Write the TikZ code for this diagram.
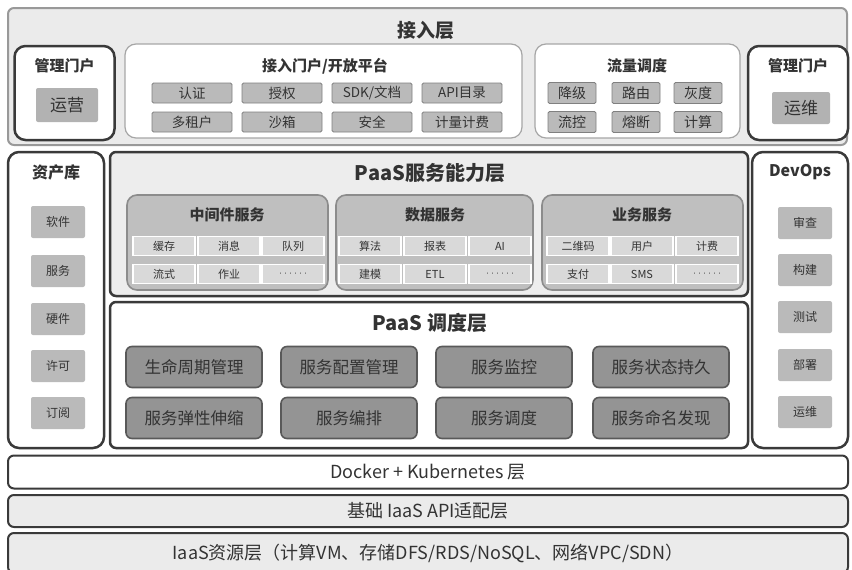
\documentclass[tikz,border=0pt]{standalone}
\usepackage{fontspec}
\setmainfont{Noto Sans CJK SC}
\definecolor{txt}{HTML}{333333}
\definecolor{line}{HTML}{3A3A3A}
\tikzset{
  every node/.style={inner sep=0pt, text=txt},
  layerbox/.style={draw=line, line width=2pt, rounded corners=6pt},
  thickbox/.style={draw=line, line width=2.5pt, rounded corners=11pt, fill=white},
  thinbox/.style={draw=black!35, line width=1.2pt, rounded corners=11pt, fill=white},
  itembox/.style={fill=black!27, draw=black!50, line width=0.9pt, rounded corners=1.5pt, font=\fontsize{13.5}{14}\selectfont},
  sidebox/.style={fill=black!27, rounded corners=2pt, minimum width=54pt, minimum height=32pt, font=\fontsize{12}{13}\selectfont},
  groupbox/.style={fill=black!25, draw=black!45, line width=1.6pt, rounded corners=10pt},
  svcitem/.style={fill=black!15, draw=white, line width=1.5pt, minimum height=19pt, font=\fontsize{11}{12}\selectfont},
  schedbox/.style={fill=black!42, draw=black!65, line width=1.6pt, rounded corners=6pt, minimum width=136pt, minimum height=41pt, font=\fontsize{16.5}{17}\selectfont},
  ttl/.style={font=\bfseries\fontsize{#1}{#1}\selectfont},
}
\begin{document}
\begin{tikzpicture}[x=1pt,y=-1pt]
\useasboundingbox (0,0) rectangle (852,570);
% ===== top access layer
\node[draw=black!40, line width=2pt, rounded corners=6pt, fill=black!8, minimum width=839pt, minimum height=137pt] (access) at (427.5,76.5) {};
\node[ttl=19] (accesst) at (426,30) {接入层};
% left admin portal
\node[thickbox, minimum width=100pt, minimum height=94pt] (admL) at (64.5,93) {};
\node[ttl=15] (admLt) at (64.5,66) {管理门户};
\node[fill=black!30, rounded corners=2pt, minimum width=62pt, minimum height=34pt, font=\fontsize{17}{18}\selectfont] (yunying) at (67,105) {运营};
% open platform
\node[thinbox, minimum width=397pt, minimum height=94pt] (open) at (323.5,91) {};
\node[ttl=15] (opent) at (325,66) {接入门户/开放平台};
\foreach \n/\t/\x/\y in {a1/认证/192/93, a2/授权/282/93, a3/{SDK/文档}/372/93, a4/API目录/462/93,
                        b1/多租户/192/122, b2/沙箱/282/122, b3/安全/372/122, b4/计量计费/462/122}
  \node[itembox, minimum width=80pt, minimum height=20pt] (\n) at (\x,\y) {\t};
% traffic scheduling
\node[thinbox, minimum width=205pt, minimum height=94pt] (flow) at (637.5,91) {};
\node[ttl=15] (flowt) at (637,66) {流量调度};
\foreach \n/\t/\x/\y in {c1/降级/572/93, c2/路由/636/93, c3/灰度/698/93,
                        d1/流控/572/122, d2/熔断/636/122, d3/计算/698/122}
  \node[itembox, minimum width=48pt, minimum height=21pt, font=\fontsize{14}{15}\selectfont] (\n) at (\x,\y) {\t};
% right admin portal
\node[thickbox, minimum width=100pt, minimum height=94pt] (admR) at (798,93) {};
\node[ttl=15] (admRt) at (798,66) {管理门户};
\node[fill=black!30, rounded corners=2pt, minimum width=58pt, minimum height=32pt, font=\fontsize{17}{18}\selectfont] (yunwei) at (801,108) {运维};
% ===== asset library
\node[thickbox, minimum width=96pt, minimum height=296pt] (asset) at (56,300) {};
\node[ttl=16] (assett) at (56,172) {资产库};
\foreach \n/\t/\y in {s1/软件/222, s2/服务/271, s3/硬件/319, s4/许可/366, s5/订阅/413}
  \node[sidebox] (\n) at (58,\y) {\t};
% ===== DevOps
\node[thickbox, minimum width=96pt, minimum height=296pt] (devops) at (800,300) {};
\node[ttl=16] (devopst) at (800,172) {DevOps};
\foreach \n/\t/\y in {v1/审查/223, v2/构建/270, v3/测试/317, v4/部署/365, v5/运维/412}
  \node[sidebox] (\n) at (805,\y) {\t};
% ===== PaaS service capability layer
\node[layerbox, line width=2.5pt, rounded corners=6pt, fill=black!7, minimum width=638pt, minimum height=144pt] (svc) at (429,224) {};
\node[ttl=20] (svct) at (430,173) {PaaS服务能力层};
\node[groupbox, minimum width=201pt, minimum height=95pt] (mid) at (227.5,242.5) {};
\node[ttl=15] (midt) at (227,215) {中间件服务};
\node[groupbox, minimum width=197pt, minimum height=95pt] (data) at (434.5,242.5) {};
\node[ttl=15] (datat) at (435,215) {数据服务};
\node[groupbox, minimum width=201pt, minimum height=95pt] (biz) at (642.5,242.5) {};
\node[ttl=15] (bizt) at (642,215) {业务服务};
\foreach \n/\t/\x/\y in {m1/缓存/164/246, m2/消息/229/246, m3/队列/293/246,
                        m4/流式/164/274, m5/作业/229/274, m6/{\tiny ······}/293/274,
                        e1/算法/370/246, e2/报表/435/246, e3/AI/500/246,
                        e4/建模/370/274, e5/ETL/435/274, e6/{\tiny ······}/500/274,
                        f1/二维码/578/246, f2/用户/642/246, f3/计费/707/246,
                        f4/支付/578/274, f5/SMS/642/274, f6/{\tiny ······}/707/274}
  \node[svcitem, minimum width=62pt] (\n) at (\x,\y) {\t};
% ===== PaaS scheduling layer
\node[layerbox, line width=2.5pt, rounded corners=6pt, fill=white, minimum width=638pt, minimum height=146pt] (sched) at (429,375) {};
\node[ttl=20] (schedt) at (430,323) {PaaS 调度层};
\foreach \n/\t/\x/\y in {g1/生命周期管理/194/367, g2/服务配置管理/349/367, g3/服务监控/504/367, g4/服务状态持久/661/367,
                        h1/服务弹性伸缩/194/418, h2/服务编排/349/418, h3/服务调度/504/418, h4/服务命名发现/661/418}
  \node[schedbox] (\n) at (\x,\y) {\t};
% ===== bottom layers
\node[layerbox, fill=white, minimum width=840pt, minimum height=33pt, font=\fontsize{18}{19}\selectfont] (docker) at (428,472) {Docker + Kubernetes 层};
\node[layerbox, fill=black!8, minimum width=840pt, minimum height=32pt, font=\fontsize{18}{19}\selectfont] (iaasapi) at (428,511) {基础 IaaS API适配层};
\node[layerbox, fill=black!8, minimum width=840pt, minimum height=40pt, font=\fontsize{18}{19}\selectfont] (iaasres) at (428,553) {IaaS资源层（计算VM、存储DFS/RDS/NoSQL、网络VPC/SDN）};
\end{tikzpicture}
\end{document}
